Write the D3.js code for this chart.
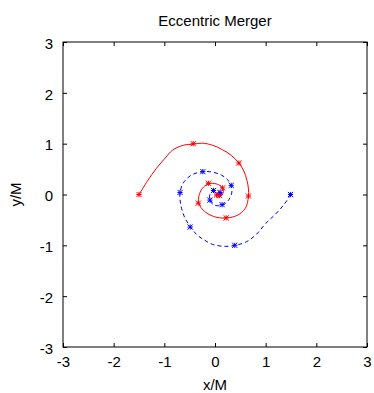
<!DOCTYPE html>
<html>
<head>
<meta charset="utf-8">
<script src="https://cdn.jsdelivr.net/npm/d3@7"></script>
<style>
  html, body { margin: 0; padding: 0; background: #fff; }
  svg { display: block; font-family: "Liberation Sans", Arial, Helvetica, sans-serif; }
</style>
</head>
<body>
<svg id="chart" width="374" height="393"></svg>
<script>
// Trajectory of body 1 (solid red) and body 2 (dashed blue), in units of M
const redPath = [
  [-1.50, 0.00], [-1.33, 0.27], [-1.16, 0.51], [-0.98, 0.72], [-0.84, 0.87],
  [-0.62, 0.97], [-0.42, 0.99], [-0.26, 1.01], [-0.05, 0.97], [0.15, 0.88],
  [0.32, 0.77], [0.47, 0.62], [0.57, 0.46], [0.63, 0.28], [0.66, 0.11], [0.66, -0.04],
  [0.60, -0.27], [0.44, -0.41], [0.23, -0.46], [0.04, -0.45], [-0.14, -0.38],
  [-0.26, -0.28], [-0.32, -0.17], [-0.32, -0.04], [-0.25, 0.12], [-0.13, 0.21],
  [0.02, 0.21], [0.13, 0.15], [0.17, 0.06], [0.13, -0.01], [0.07, -0.03], [0.03, -0.01]
];
const bluePath = [
  [1.50, 0.00], [1.36, -0.20], [1.19, -0.39], [1.00, -0.57], [0.82, -0.78],
  [0.62, -0.93], [0.40, -1.00], [0.18, -1.02], [-0.05, -0.98], [-0.22, -0.89],
  [-0.36, -0.79], [-0.49, -0.63], [-0.60, -0.45], [-0.66, -0.27], [-0.69, -0.10],
  [-0.69, 0.04], [-0.63, 0.22], [-0.47, 0.38], [-0.24, 0.45], [-0.05, 0.44],
  [0.13, 0.38], [0.25, 0.29], [0.32, 0.17], [0.33, 0.03], [0.26, -0.12],
  [0.14, -0.21], [-0.01, -0.21], [-0.10, -0.12], [-0.10, 0.00], [-0.04, 0.07],
  [0.05, 0.07], [0.11, 0.02], [0.10, -0.02]
];
// Sampled positions marked with asterisks
const redMarks = [
  [-1.50, 0.00], [-0.43, 1.00], [0.47, 0.62], [0.66, -0.03], [0.22, -0.46],
  [-0.33, -0.17], [-0.13, 0.22], [0.15, 0.13], [0.09, -0.02], [0.03, -0.01]
];
const blueMarks = [
  [1.49, 0.00], [0.39, -1.00], [-0.49, -0.64], [-0.69, 0.04], [-0.24, 0.45],
  [0.32, 0.18], [0.14, -0.20], [-0.10, -0.11], [-0.03, 0.08], [0.10, 0.04]
];
const tickValues = [-3, -2, -1, 0, 1, 2, 3];
const titleText = "Eccentric Merger";
const xLabel = "x/M";
const yLabel = "y/M";

const svg = d3.select("#chart");
const plotLeft = 63, plotTop = 42, plotRight = 367, plotBottom = 347;
const fontSize = 15;

const x = d3.scaleLinear().domain([-3, 3]).range([plotLeft, plotRight]);
const y = d3.scaleLinear().domain([-3, 3]).range([plotBottom, plotTop]);

const tickLen = 4;
const fmt = d => String(d);   // plain hyphen-minus for negatives

// Axes with inward ticks on all four sides
const axisStyle = g => {
  g.attr("font-family", null).attr("font-size", null);
  g.select(".domain").remove();
  g.selectAll(".tick line").attr("stroke", "#000").attr("stroke-width", 1);
  g.selectAll(".tick text").attr("fill", "#000").attr("font-size", fontSize);
};

svg.append("g").attr("transform", `translate(0,${plotBottom})`)
  .call(d3.axisBottom(x).tickValues(tickValues).tickFormat(fmt)
    .tickSizeInner(-tickLen).tickSizeOuter(0).tickPadding(9))
  .call(axisStyle);

svg.append("g").attr("transform", `translate(0,${plotTop})`)
  .call(d3.axisTop(x).tickValues(tickValues).tickFormat("")
    .tickSizeInner(-tickLen).tickSizeOuter(0))
  .call(axisStyle);

svg.append("g").attr("transform", `translate(${plotLeft},0)`)
  .call(d3.axisLeft(y).tickValues(tickValues).tickFormat(fmt)
    .tickSizeInner(-tickLen).tickSizeOuter(0).tickPadding(10))
  .call(axisStyle)
  .call(g => g.selectAll(".tick text").attr("dy", "0.42em"));

svg.append("g").attr("transform", `translate(${plotRight},0)`)
  .call(d3.axisRight(y).tickValues(tickValues).tickFormat("")
    .tickSizeInner(-tickLen).tickSizeOuter(0))
  .call(axisStyle);

// Plot frame
svg.append("rect")
  .attr("x", plotLeft).attr("y", plotTop)
  .attr("width", plotRight - plotLeft).attr("height", plotBottom - plotTop)
  .attr("fill", "none").attr("stroke", "#000").attr("stroke-width", 1);

// Trajectories
const line = d3.line().x(d => x(d[0])).y(d => y(d[1])).curve(d3.curveCatmullRom.alpha(0.5));

svg.append("path").datum(redPath)
  .attr("d", line).attr("fill", "none")
  .attr("stroke", "#ff0000").attr("stroke-width", 1);

svg.append("path").datum(bluePath)
  .attr("d", line).attr("fill", "none")
  .attr("stroke", "#0000ff").attr("stroke-width", 1)
  .attr("stroke-dasharray", "4,3");

// Eight-armed asterisk markers
const s = 2.6;
const star = `M${-s},0L${s},0M0,${-s}L0,${s}M${-s},${-s}L${s},${s}M${-s},${s}L${s},${-s}`;

function marks(data, color) {
  svg.append("g").selectAll("path").data(data).join("path")
    .attr("transform", d => `translate(${x(d[0])},${y(d[1])})`)
    .attr("d", star).attr("fill", "none")
    .attr("stroke", color).attr("stroke-width", 1);
}
marks(redMarks, "#ff0000");
marks(blueMarks, "#0000ff");

// Title and axis labels
svg.append("text")
  .attr("x", (plotLeft + plotRight) / 2).attr("y", 25.5)
  .attr("text-anchor", "middle").attr("font-size", fontSize)
  .text(titleText);

svg.append("text")
  .attr("x", (plotLeft + plotRight) / 2).attr("y", 389.5)
  .attr("text-anchor", "middle").attr("font-size", fontSize)
  .text(xLabel);

svg.append("text")
  .attr("transform", `translate(21,${(plotTop + plotBottom) / 2}) rotate(-90)`)
  .attr("text-anchor", "middle").attr("font-size", fontSize)
  .text(yLabel);
</script>
</body>
</html>
